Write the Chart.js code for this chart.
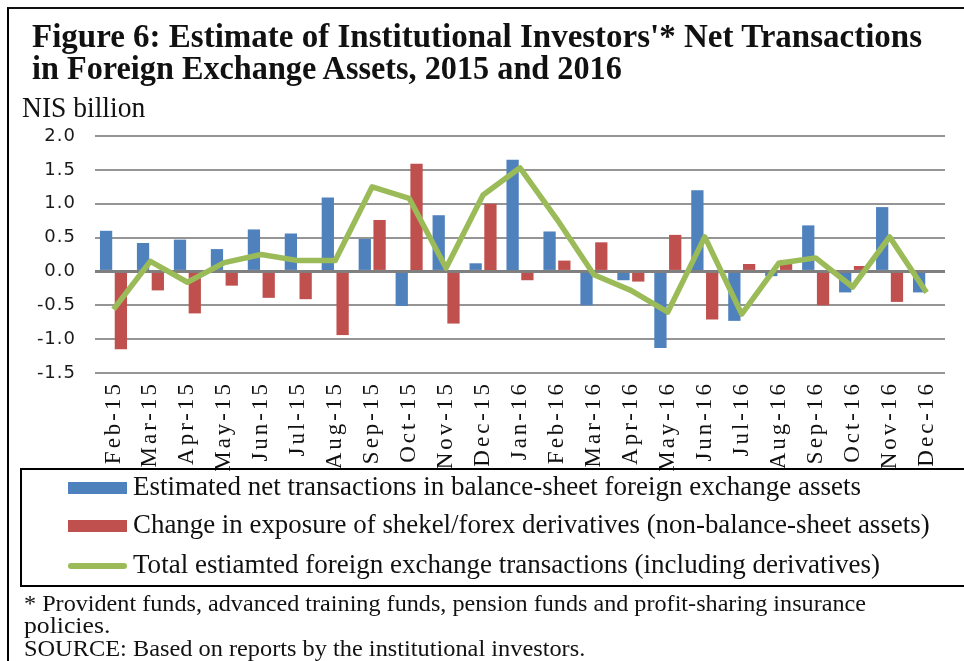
<!DOCTYPE html>
<html>
<head>
<meta charset="utf-8">
<title>Figure 6</title>
<script src="https://cdn.jsdelivr.net/npm/chart.js@4.4.1/dist/chart.umd.min.js"></script>
<style>
  html, body { margin: 0; padding: 0; background: #fff; }
  #page { position: relative; width: 964px; height: 661px; overflow: hidden; }
  #frame { position: absolute; left: 7px; top: 7px; width: 1000px; height: 700px;
           border-left: 2px solid #000; border-top: 2.5px solid #111; }
  #legendBox { position: absolute; left: 20px; top: 468px; width: 1000px; height: 115px;
               border: 2px solid #000; }
  canvas { position: absolute; left: 0; top: 0; }
  .t { position: absolute; white-space: nowrap; font-family: 'Liberation Serif', serif;
       color: #111; transform-origin: 0 0; }
  .sw { position: absolute; }
</style>
</head>
<body>
<div id="page">
  <div id="frame"></div>
  <canvas id="myChart" width="964" height="661"></canvas>
  <div id="legendBox"></div>
</div>
<script>
// data
const months = ['Feb-15', 'Mar-15', 'Apr-15', 'May-15', 'Jun-15', 'Jul-15', 'Aug-15', 'Sep-15',
  'Oct-15', 'Nov-15', 'Dec-15', 'Jan-16', 'Feb-16', 'Mar-16', 'Apr-16', 'May-16', 'Jun-16',
  'Jul-16', 'Aug-16', 'Sep-16', 'Oct-16', 'Nov-16', 'Dec-16'];
const balanceSheet = [0.60, 0.42, 0.47, 0.33, 0.62, 0.56, 1.09, 0.48, -0.51, 0.83, 0.12, 1.65,
  0.59, -0.50, -0.13, -1.13, 1.20, -0.73, -0.07, 0.68, -0.31, 0.95, -0.31];
const derivatives = [-1.15, -0.28, -0.62, -0.21, -0.39, -0.41, -0.94, 0.76, 1.59, -0.77, 1.00, -0.13,
  0.16, 0.43, -0.15, 0.54, -0.71, 0.11, 0.17, -0.50, 0.08, -0.45, 0];
const total = [-0.56, 0.15, -0.16, 0.13, 0.25, 0.16, 0.16, 1.25, 1.08, 0.05, 1.13, 1.53,
  0.77, -0.05, -0.28, -0.60, 0.51, -0.63, 0.12, 0.20, -0.23, 0.51, -0.31];
const seriesNames = [
  'Estimated net transactions in balance-sheet foreign exchange assets',
  'Change in exposure of shekel/forex derivatives (non-balance-sheet assets)',
  'Total estiamted foreign exchange transactions (including derivatives)'
];
const yTicks = [-1.5, -1.0, -0.5, 0.0, 0.5, 1.0, 1.5, 2.0];

const blue = '#4F81BD', red = '#C0504D', green = '#9BBB59';

// texts drawn as html, x/baseline/fontsize/target width
function addText(str, x, baseline, size, width, bold) {
  const el = document.createElement('div');
  el.className = 't';
  el.textContent = str;
  el.style.fontSize = size + 'px';
  el.style.lineHeight = size + 'px';
  if (bold) el.style.fontWeight = 'bold';
  el.style.left = x + 'px';
  el.style.top = (baseline - 0.8375 * size) + 'px';
  document.getElementById('page').appendChild(el);
  if (width) el.style.transform = 'scaleX(' + (width / el.offsetWidth) + ')';
  return el;
}

addText("Figure 6: Estimate of Institutional Investors'* Net Transactions", 32, 47, 34, 890, true);
addText('in Foreign Exchange Assets, 2015 and 2016', 32, 79, 34, 590, true);
addText('NIS billion', 22, 117, 30, 123);

// legend
const legendRows = [495, 533, 573];
const legendWidths = [728, 797, 747];
const colors = [blue, red, green];
seriesNames.forEach(function (name, i) {
  addText(name, 133, legendRows[i], 28, legendWidths[i]);
  const sw = document.createElement('div');
  sw.className = 'sw';
  sw.style.background = colors[i];
  sw.style.left = '68px';
  sw.style.width = '59px';
  if (i < 2) {
    sw.style.top = (legendRows[i] - 13) + 'px';
    sw.style.height = '12px';
  } else {
    sw.style.top = (legendRows[i] - 10) + 'px';
    sw.style.height = '6px';
    sw.style.borderRadius = '3px';
  }
  document.getElementById('page').appendChild(sw);
});

// footnotes
addText('* Provident funds, advanced training funds, pension funds and profit-sharing insurance', 24, 611, 23, 842);
addText('policies.', 24, 633, 23, 86);
addText('SOURCE:  Based on reports by the institutional investors.', 24, 656, 23, 561);

// letter spacing on tick labels (y ticks drawn before datasets, x ticks after)
const spacing = {
  id: 'spacing',
  beforeDraw(chart) { chart.ctx.letterSpacing = '1px'; },
  afterDatasetsDraw(chart) { chart.ctx.letterSpacing = '3px'; },
  afterDraw(chart) { chart.ctx.letterSpacing = '0px'; }
};

const ctx = document.getElementById('myChart');
const myChart = new Chart(ctx, {
  type: 'bar',
  data: {
    labels: months,
    datasets: [
      { type: 'line', label: seriesNames[2], data: total, borderColor: green, backgroundColor: green,
        borderWidth: 5.5, pointRadius: 0, tension: 0, borderJoinStyle: 'round', order: 0 },
      { label: seriesNames[0], data: balanceSheet, backgroundColor: blue,
        categoryPercentage: 0.8, barPercentage: 0.83, order: 1 },
      { label: seriesNames[1], data: derivatives, backgroundColor: red,
        categoryPercentage: 0.8, barPercentage: 0.83, order: 1 }
    ]
  },
  plugins: [spacing],
  options: {
    responsive: false,
    animation: false,
    layout: { padding: { left: 0, top: 136, right: 19, bottom: 188 } },
    plugins: { legend: { display: false }, tooltip: { enabled: false } },
    scales: {
      x: {
        grid: { display: false, drawTicks: false },
        border: { display: false },
        ticks: {
          z: 1, autoSkip: false, minRotation: 90, maxRotation: 90, padding: 8,
          color: '#111', font: { family: 'Liberation Serif', size: 23 }
        },
        afterFit(scale) { scale.height = 100; }
      },
      y: {
        min: yTicks[0],
        max: yTicks[yTicks.length - 1],
        afterBuildTicks(scale) { scale.ticks = yTicks.map(v => ({ value: v })); },
        grid: {
          drawTicks: false,
          color: c => (c.tick && c.tick.value === 0) ? '#7f7f7f' : '#959595',
          lineWidth: c => (c.tick && c.tick.value === 0) ? 3 : 2
        },
        border: { display: false },
        ticks: {
          padding: 19, color: '#1a1a1a',
          font: { family: 'DejaVu Sans', size: 18 },
          callback: v => v.toFixed(1)
        },
        afterFit(scale) { scale.width = 95; }
      }
    }
  }
});
</script>
</body>
</html>
